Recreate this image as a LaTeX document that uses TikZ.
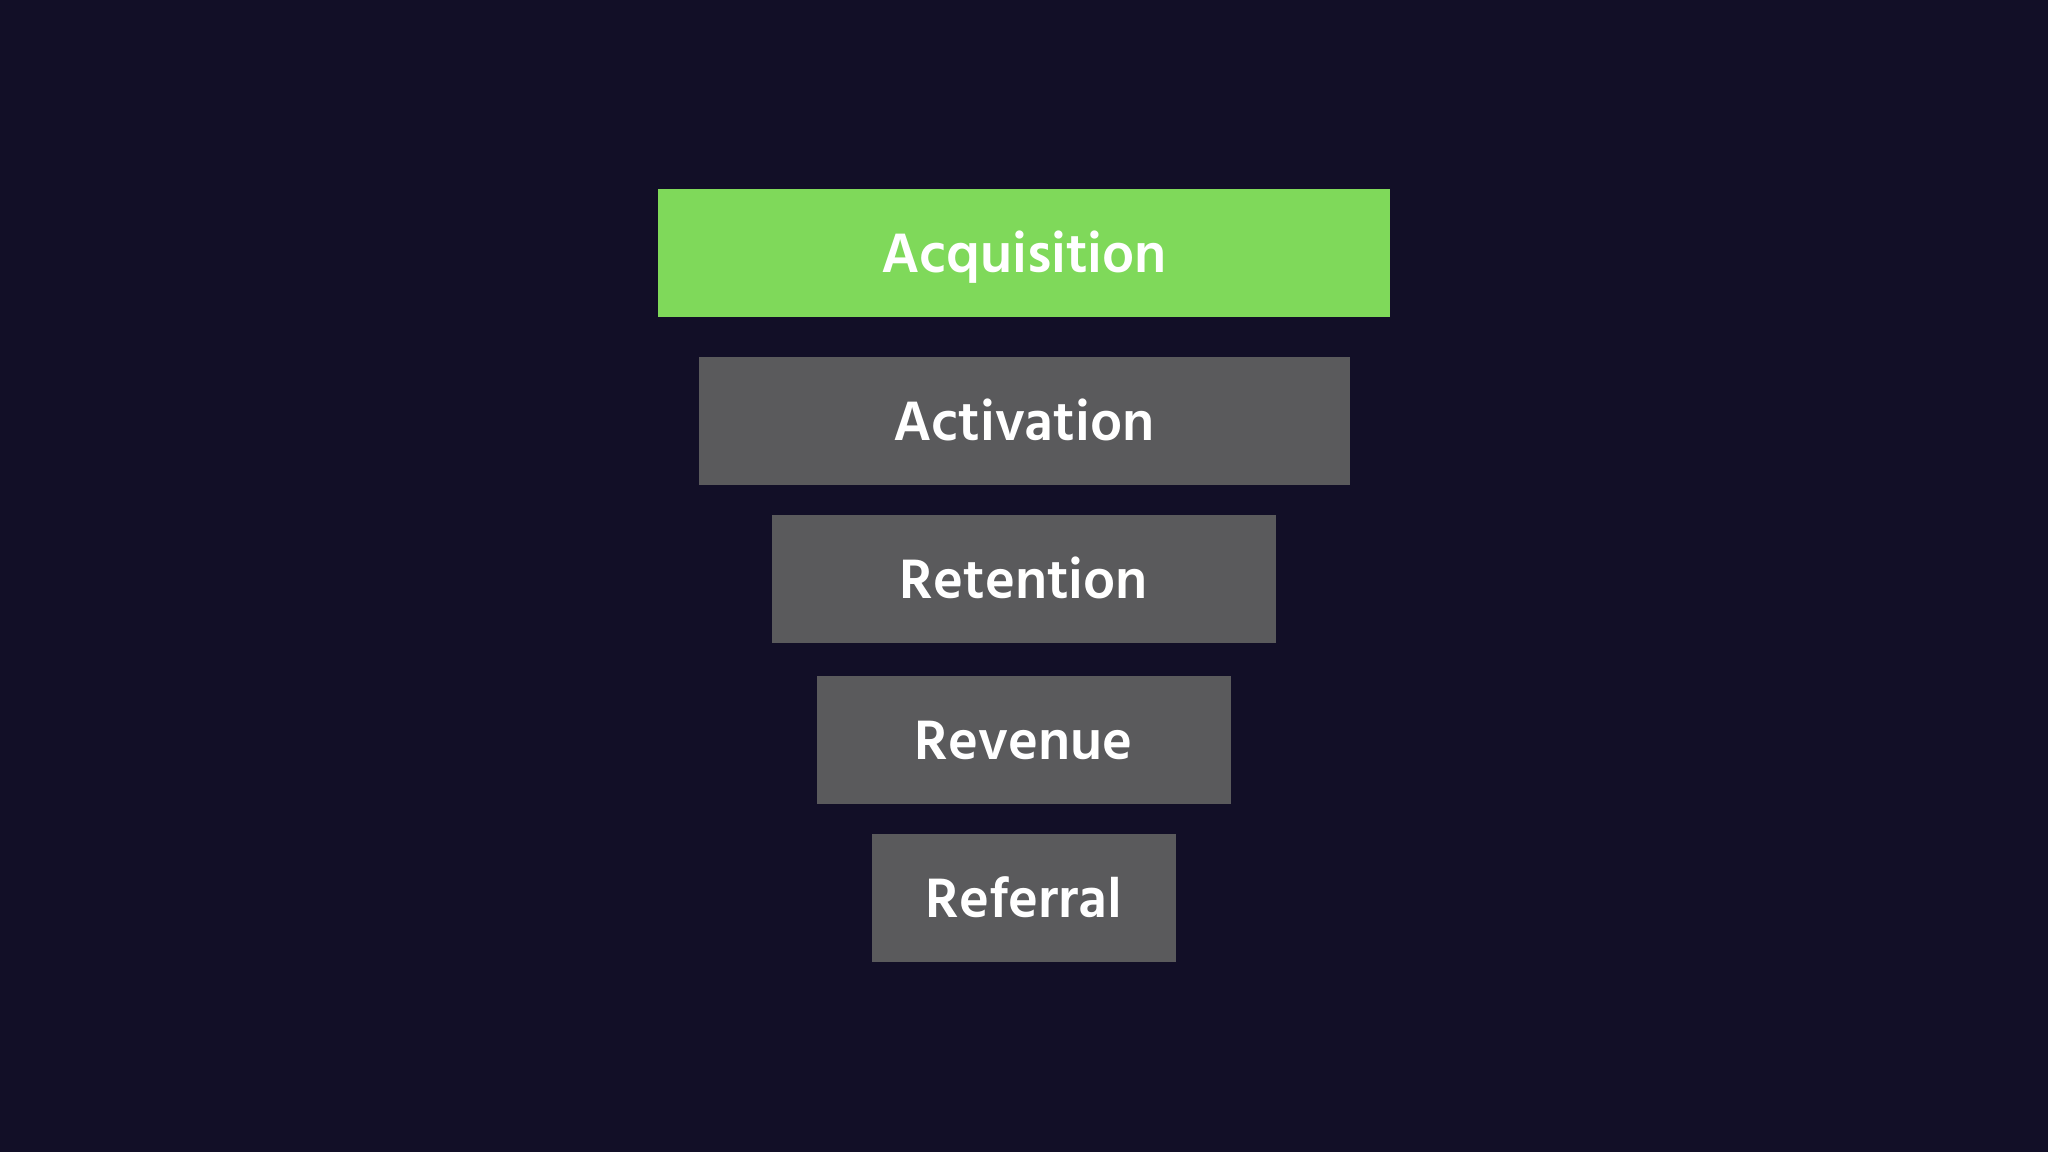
\documentclass[tikz,border=0pt]{standalone}
\usepackage{fontspec}
\setmainfont{Hind Siliguri}[BoldFont={* SemiBold}]
\usepackage{tikz}

\definecolor{bgnavy}{HTML}{120F27}
\definecolor{stagegreen}{HTML}{7FD95A}
\definecolor{stagegray}{HTML}{5A5A5C}

\tikzset{
  stage/.style={rectangle, fill=stagegray, inner sep=0pt, minimum height=1.28cm,
    text=white, font=\fontsize{16.2}{16.2}\selectfont\bfseries,
    text height=0.4cm, text depth=0pt},
  topstage/.style={stage, fill=stagegreen}
}

\begin{document}
\begin{tikzpicture}

\fill[bgnavy] (0,0) rectangle (20.48,11.52);
\useasboundingbox (0,0) rectangle (20.48,11.52);

\node[topstage, minimum width=7.32cm] (acq) at (10.24,8.99) {Acquisition};
\node[stage, minimum width=6.51cm] (act) at (10.24,7.31) {Activation};
\node[stage, minimum width=5.04cm] (ret) at (10.24,5.73) {Retention};
\node[stage, minimum width=4.14cm] (rev) at (10.24,4.12) {Revenue};
\node[stage, minimum width=3.04cm] (refl) at (10.24,2.54) {Referral};

\end{tikzpicture}
\end{document}
